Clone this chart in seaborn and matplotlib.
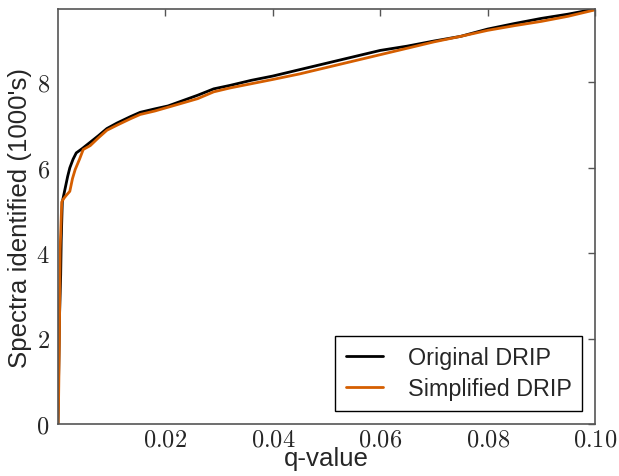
import matplotlib
matplotlib.use("Agg")
import matplotlib.pyplot as plt
import seaborn as sns
import pandas as pd

q_orig = [0, 0.0001, 0.0003, 0.0005, 0.0006, 0.0008, 0.0013, 0.0018, 0.0022, 0.0028,
          0.0034, 0.0045, 0.006, 0.0075, 0.0091, 0.011, 0.0135, 0.0153, 0.018, 0.0205,
          0.0227, 0.026, 0.029, 0.032, 0.036, 0.040, 0.045, 0.050, 0.055, 0.060,
          0.065, 0.070, 0.075, 0.080, 0.085, 0.090, 0.095, 0.100]
y_orig = [0, 1.0, 2.6, 3.5, 4.3, 5.2, 5.5, 5.8, 6.0, 6.2,
          6.35, 6.45, 6.6, 6.75, 6.92, 7.05, 7.2, 7.3, 7.38, 7.45,
          7.55, 7.7, 7.85, 7.93, 8.05, 8.15, 8.3, 8.45, 8.6, 8.75,
          8.85, 8.97, 9.08, 9.25, 9.38, 9.5, 9.6, 9.72]

q_simp = [0, 0.0001, 0.00025, 0.0004, 0.0007, 0.001, 0.0015, 0.0022, 0.0027, 0.0032,
          0.004, 0.0047, 0.006, 0.0075, 0.0091, 0.011, 0.0135, 0.0153, 0.018, 0.0205,
          0.0227, 0.026, 0.029, 0.032, 0.036, 0.040, 0.045, 0.050, 0.055, 0.060,
          0.065, 0.070, 0.075, 0.080, 0.085, 0.090, 0.095, 0.100]
y_simp = [0, 0.5, 1.9, 4.1, 5.2, 5.27, 5.35, 5.45, 5.75, 5.96,
          6.2, 6.43, 6.52, 6.7, 6.88, 7.0, 7.15, 7.25, 7.33, 7.42,
          7.5, 7.62, 7.78, 7.87, 7.97, 8.07, 8.2, 8.35, 8.5, 8.65,
          8.8, 8.95, 9.08, 9.22, 9.33, 9.43, 9.55, 9.7]

series_names = ["Original DRIP", "Simplified DRIP"]
x_ticks = [0.02, 0.04, 0.06, 0.08, 0.10]
x_ticklabels = ["0.02", "0.04", "0.06", "0.08", "0.10"]
y_ticks = [0, 2, 4, 6, 8]

df = pd.concat([
    pd.DataFrame({"q": q_orig, "y": y_orig, "method": series_names[0]}),
    pd.DataFrame({"q": q_simp, "y": y_simp, "method": series_names[1]}),
], ignore_index=True)

sns.set_style("white")
plt.rcParams["font.family"] = ["Liberation Sans", "DejaVu Sans"]
plt.rcParams["mathtext.fontset"] = "cm"

fig = plt.figure(figsize=(6.19, 4.77), dpi=100)
ax = fig.add_axes([0.0937, 0.109, 0.8675, 0.870])

sns.lineplot(data=df, x="q", y="y", hue="method", sort=False,
             palette={series_names[0]: "black", series_names[1]: "#D55E00"},
             linewidth=2, ax=ax, estimator=None)

ax.set_xlim(0, 0.1)
ax.set_ylim(0, 9.72)
ax.set_xticks(x_ticks)
ax.set_xticklabels(["$" + t + "$" for t in x_ticklabels])
ax.set_yticks(y_ticks)
ax.set_yticklabels(["$%d$" % t for t in y_ticks])
ax.tick_params(direction="in", length=5, width=1, color="#555555",
               top=True, right=True, labelsize=17.5, pad=6)
ax.tick_params(axis="x", pad=3)
for s in ax.spines.values():
    s.set_color("#555555")
    s.set_linewidth(1.2)

ax.set_xlabel("q-value", fontsize=18.6, labelpad=-3)
ax.set_ylabel("Spectra identified (1000's)", fontsize=18.6, labelpad=3)

leg = ax.legend(loc="lower right", fontsize=16.8, frameon=True, fancybox=False,
                edgecolor="black", framealpha=1, handlelength=1.6, handletextpad=1.05,
                borderpad=0.45, borderaxespad=0.56, labelspacing=0.35)
leg.get_frame().set_linewidth(1)

fig.savefig("out.png", dpi=100)
